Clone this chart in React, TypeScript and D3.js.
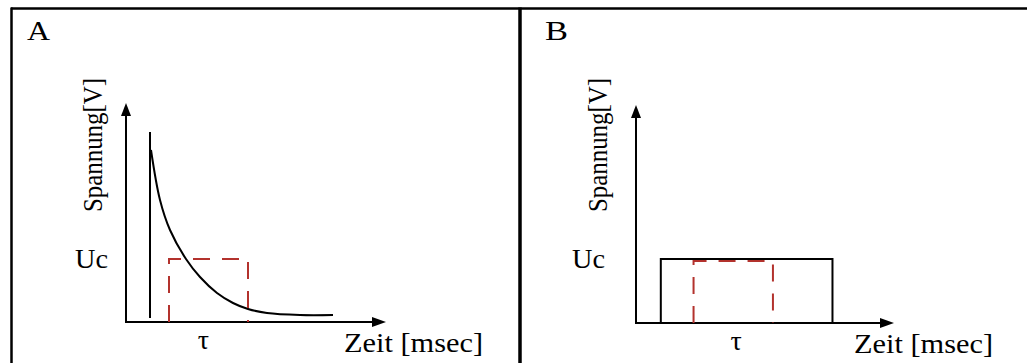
import React from "react";
import * as d3 from "d3";

// Panel A: discharge curve (time in arbitrary ms units, voltage in arbitrary V units)
const curveTime = [2.5, 3.4, 4.4, 6.0, 7.4, 9.1, 10.7, 12.2, 14.1, 17.4, 20.7];
const curveVolt = [17.2, 12.2, 9.2, 6.3, 4.5, 2.9, 1.9, 1.3, 0.9, 0.7, 0.7];
const spikeTime = 2.4;
const spikeVolt = [0.4, 19.0];
const tauA = [4.3, 12.2];
const ucA = 6.3;

// Panel B: rectangular pulse
const pulseTime = [2.5, 19.8];
const ucB = 6.4;
const tauB = [5.8, 13.8];
const tauBVolt = 6.2;

const panelLabels = ["A", "B"];
const yLabel = "Spannung[V]";
const xLabel = "Zeit [msec]";
const ucLabel = "Uc";
const tauLabel = "τ";

const FONT = "'Liberation Serif', 'Times New Roman', serif";
const RED = "#b3322d";

function Axes({ x, y }: { x: any; y: any }) {
  const x0 = x(0), y0 = y(0);
  const [, xEnd] = x.range();
  const [, yEnd] = y.range();
  return (
    <g>
      <line x1={x0} y1={y0} x2={x0} y2={yEnd + 10} stroke="#000" strokeWidth={2} />
      <line x1={x0 - 1} y1={y0} x2={xEnd - 10} y2={y0} stroke="#000" strokeWidth={2} />
      <path d={`M${x0},${yEnd} L${x0 - 5},${yEnd + 13} L${x0 + 5},${yEnd + 13} Z`} fill="#000" />
      <path d={`M${xEnd},${y0} L${xEnd - 14},${y0 - 5} L${xEnd - 14},${y0 + 5} Z`} fill="#000" />
    </g>
  );
}

function Labels({ x, y, uc, tauCenter, off, letterX }: any) {
  const x0 = x(0), y0 = y(0);
  return (
    <g fontFamily={FONT} fill="#000">
      <text x={letterX} y={40} fontSize={27} textLength={23} lengthAdjust="spacingAndGlyphs">
        {off === 0 ? panelLabels[0] : panelLabels[1]}
      </text>
      <text
        transform={`translate(${x0 - 24 - (off ? 5 : 0)},${145}) rotate(-90)`}
        textAnchor="middle"
        fontSize={27}
        textLength={134}
        lengthAdjust="spacingAndGlyphs"
      >
        {yLabel}
      </text>
      <text x={x0 - 18 - (off ? 13 : 0)} y={y(uc) + 9} textAnchor="end" fontSize={27} textLength={33} lengthAdjust="spacingAndGlyphs">
        {ucLabel}
      </text>
      <text x={tauCenter} y={y0 + 27} textAnchor="middle" fontSize={28}>
        {tauLabel}
      </text>
      <text x={x0 + 218} y={y0 + 30} fontSize={27} textLength={139} lengthAdjust="spacingAndGlyphs">
        {xLabel}
      </text>
    </g>
  );
}

export default function App() {
  const xA = d3.scaleLinear().domain([0, 26]).range([126, 386]);
  const yA = d3.scaleLinear().domain([0, 21.9]).range([322, 103]);
  const xB = d3.scaleLinear().domain([0, 26]).range([636, 894]);
  const yB = d3.scaleLinear().domain([0, 21.8]).range([323, 105]);

  const pts = curveTime.map((t, i) => [t, curveVolt[i]] as [number, number]);
  const curve = d3
    .line<[number, number]>()
    .x((d) => xA(d[0]))
    .y((d) => yA(d[1]))
    .curve(d3.curveCatmullRom.alpha(0.5))(pts);

  const tauRectA = `M${xA(tauA[0])},${yA(0)} L${xA(tauA[0])},${yA(ucA)} L${xA(tauA[1])},${yA(ucA)} L${xA(tauA[1])},${yA(0)}`;
  const tauRectB = `M${xB(tauB[0])},${yB(0)} L${xB(tauB[0])},${yB(tauBVolt)} L${xB(tauB[1])},${yB(tauBVolt)} L${xB(tauB[1])},${yB(0)}`;
  const pulse = `M${xB(pulseTime[0])},${yB(0)} L${xB(pulseTime[0])},${yB(ucB)} L${xB(pulseTime[1])},${yB(ucB)} L${xB(pulseTime[1])},${yB(0)}`;

  return (
    <svg
      width={1027}
      height={363}
      style={{ position: "absolute", left: 0, top: 0, background: "#fff" }}
    >
      {/* frame */}
      <line x1={11} y1={8.5} x2={1027} y2={8.5} stroke="#000" strokeWidth={2.5} />
      <line x1={11.5} y1={7.5} x2={11.5} y2={363} stroke="#000" strokeWidth={2.5} />
      <line x1={520} y1={7.5} x2={520} y2={363} stroke="#000" strokeWidth={3.5} />

      {/* Panel A */}
      <Axes x={xA} y={yA} />
      <line x1={xA(spikeTime)} y1={yA(spikeVolt[0])} x2={xA(spikeTime)} y2={yA(spikeVolt[1])} stroke="#000" strokeWidth={2} />
      <path d={curve || ""} fill="none" stroke="#000" strokeWidth={2} />
      <path d={tauRectA} fill="none" stroke={RED} strokeWidth={2} strokeDasharray="17 12" />
      <Labels x={xA} y={yA} uc={ucA} tauCenter={(xA(tauA[0]) + xA(tauA[1])) / 2 - 5} off={0} letterX={27} />

      {/* Panel B */}
      <Axes x={xB} y={yB} />
      <path d={pulse} fill="none" stroke="#000" strokeWidth={2} />
      <path d={tauRectB} fill="none" stroke={RED} strokeWidth={2} strokeDasharray="17 12" />
      <Labels x={xB} y={yB} uc={ucB} tauCenter={(xB(tauB[0]) + xB(tauB[1])) / 2 + 3} off={1} letterX={545} />
    </svg>
  );
}
